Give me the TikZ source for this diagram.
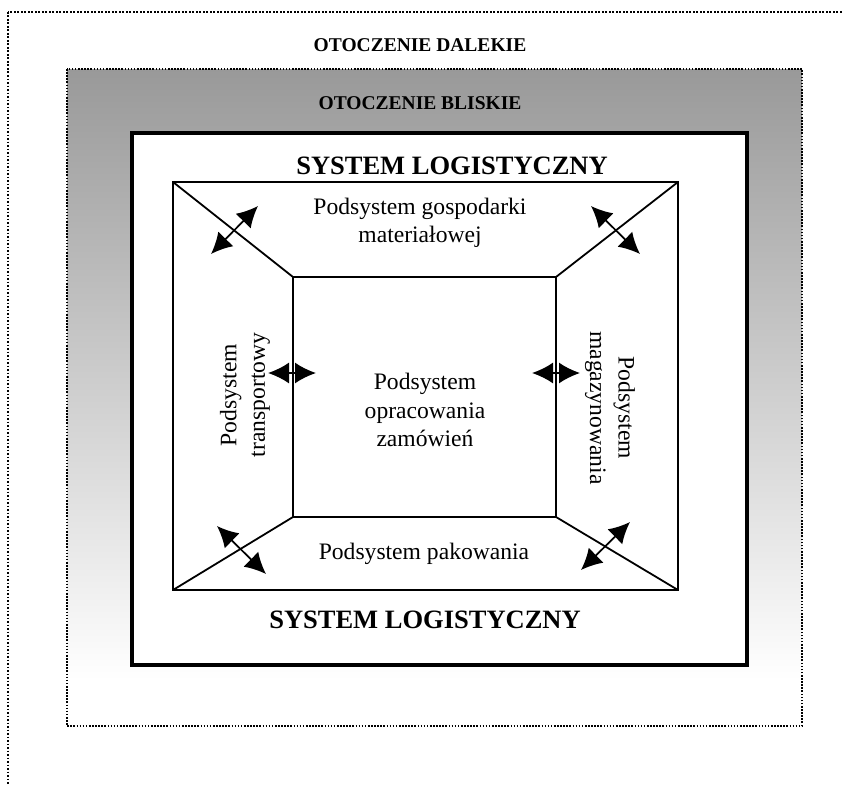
\documentclass[tikz,border=0pt]{standalone}
\usepackage{fontspec}
\setmainfont{Liberation Serif}
\usetikzlibrary{arrows.meta}
\begin{document}
\begin{tikzpicture}[x=1pt,y=-1pt,
  outerdots/.style={line width=1.7pt, dash pattern=on 1.8pt off 1.7pt},
  innerdots/.style={line width=1.5pt, dash pattern=on 1.6pt off 1.5pt},
  boxline/.style={line width=3.6pt},
  frameline/.style={line width=1.8pt},
  dbl/.style={line width=1.7pt, {Latex[length=21pt,width=21pt]}-{Latex[length=21pt,width=21pt]}},
  headbig/.style={font=\bfseries\fontsize{19.5}{23}\selectfont, inner sep=0pt},
  headsys/.style={font=\bfseries\fontsize{26.5}{31}\selectfont, inner sep=0pt},
  body/.style={font=\fontsize{23.6}{28.5}\selectfont, align=center, inner sep=0pt}
]
\useasboundingbox (0,0) rectangle (842,784);
\clip (0,0) rectangle (842,784);
\fill[white] (0,0) rectangle (842,784);
% outer environment
\draw[outerdots] (8,12) rectangle (860,800);
% near environment
\shade[top color={black!40}, bottom color=white] (67,69) rectangle (802,680);
\draw[innerdots] (67,69) rectangle (802,726);
% logistic system box
\draw[boxline, fill=white] (132,133) rectangle (747,665);
% frame
\coordinate (o1) at (173,182);
\coordinate (o2) at (678,182);
\coordinate (o3) at (678,590);
\coordinate (o4) at (173,590);
\coordinate (i1) at (293,277);
\coordinate (i2) at (556,277);
\coordinate (i3) at (556,517);
\coordinate (i4) at (293,517);
\draw[frameline] (o1) -- (o2) -- (o3) -- (o4) -- cycle;
\draw[frameline] (i1) -- (i2) -- (i3) -- (i4) -- cycle;
\draw[frameline] (o1) -- (i1);
\draw[frameline] (o2) -- (i2);
\draw[frameline] (o3) -- (i3);
\draw[frameline] (o4) -- (i4);
% arrows
\coordinate (a1s) at (211,254); \coordinate (a1e) at (258,206);
\coordinate (a2s) at (591,206); \coordinate (a2e) at (640,254);
\coordinate (a3s) at (268,373); \coordinate (a3e) at (316,373);
\coordinate (a4s) at (532,373); \coordinate (a4e) at (580,373);
\coordinate (a5s) at (217,526); \coordinate (a5e) at (266,574);
\coordinate (a6s) at (581,570); \coordinate (a6e) at (630,522);
\draw[dbl] (a1s) -- (a1e);
\draw[dbl] (a2s) -- (a2e);
\draw[dbl] (a3s) -- (a3e);
\draw[dbl] (a4s) -- (a4e);
\draw[dbl] (a5s) -- (a5e);
\draw[dbl] (a6s) -- (a6e);
% texts
\node[headbig] (dal) at (420,45) {OTOCZENIE DALEKIE};
\node[headbig] (bli) at (420,103) {OTOCZENIE BLISKIE};
\node[headsys] (sys1) at (452,166) {SYSTEM LOGISTYCZNY};
\node[headsys] (sys2) at (425,620) {SYSTEM LOGISTYCZNY};
\node[body] (gosp) at (420,223) {Podsystem gospodarki\\materiałowej};
\node[body] (opr) at (425,410) {Podsystem\\opracowania\\zamówień};
\node[body] (pak) at (424,554) {Podsystem pakowania};
\node[body, rotate=90] (tra) at (245,395) {Podsystem\\transportowy};
\node[body, rotate=-90] (mag) at (610,408) {Podsystem\\magazynowania};
\end{tikzpicture}
\end{document}
